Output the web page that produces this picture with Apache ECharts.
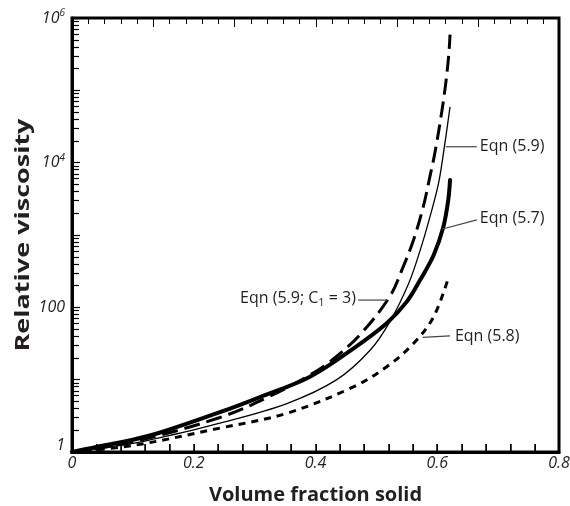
<!DOCTYPE html>
<html><head><meta charset="utf-8">
<script src="https://cdn.jsdelivr.net/npm/echarts@6/dist/echarts.min.js"></script>
<style>html,body{margin:0;padding:0;background:#fff}#c{width:570px;height:506px}</style>
</head><body><div id="c"></div>
<script>
// Eqn (5.7) thick solid
const phi57 = [0, 0.035, 0.1, 0.145, 0.243, 0.309, 0.391, 0.462, 0.517, 0.55, 0.572, 0.594, 0.61, 0.618, 0.621];
const eta57 = [1, 1.15, 1.48, 1.86, 3.55, 5.75, 11, 26.9, 60.3, 120, 240, 525, 1290, 3020, 5750];
// Eqn (5.9) thin solid
const phi59 = [0, 0.1, 0.145, 0.243, 0.353, 0.435, 0.49, 0.522, 0.553, 0.572, 0.588, 0.602, 0.61, 0.621];
const eta59 = [1, 1.32, 1.58, 2.51, 4.68, 10, 25.7, 63, 214, 617, 1780, 5130, 13200, 58900];
// Eqn (5.9; C1 = 3) long dash
const phi59c3 = [0, 0.1, 0.243, 0.325, 0.386, 0.424, 0.473, 0.522, 0.544, 0.561, 0.577, 0.588, 0.596, 0.607, 0.614, 0.619, 0.621];
const eta59c3 = [1, 1.38, 3.0, 5.9, 11, 17.8, 41.7, 141, 363, 851, 2450, 6460, 13500, 47900, 126000, 316000, 589000];
// Eqn (5.8) short dash
const phi58 = [0, 0.1, 0.243, 0.353, 0.462, 0.517, 0.561, 0.594, 0.618];
const eta58 = [1, 1.23, 2.14, 3.43, 7.94, 15.1, 31.6, 74, 251];

const xTickLabels = ['0', '0.2', '0.4', '0.6', '0.8'];
const yLabelDecades = [0, 2, 4, 6];
const yTitle = 'Relative viscosity';
const xTitle = 'Volume fraction solid';
const bottomTickDivisions = 20;  // ticks every 0.04 along the bottom edge
const topTickDivisions = 30;     // ticks along the top edge

// annotation anchors (data space)
const annotations = [
  {text: 'Eqn (5.9)', line: [0.614, 16600, 0.665, 16600], at: [0.670, 16600], align: 'left'},
  {text: 'Eqn (5.7)', line: [0.607, 1200, 0.665, 1620], at: [0.670, 1720], align: 'left'},
  {text: '{a|Eqn (5.9; C}{s|1}{a| = 3)}', line: [0.470, 126, 0.517, 126], at: [0.4665, 133], align: 'right'},
  {text: 'Eqn (5.8)', line: [0.576, 38.5, 0.621, 40.2], at: [0.629, 39.3], align: 'left'}
];

const pairs = (xs, ys) => xs.map((x, i) => [x, ys[i]]);
const FONT = '"Open Sans", "Noto Sans", sans-serif';
const TXT = '#231f20';
const G = {left: 72, right: 11, top: 18, bottom: 54};
const X_MAX = 0.8, Y_MIN = 1, Y_MAX = 1e6;

const chart = echarts.init(document.getElementById('c'), null, {renderer: 'canvas'});
chart.setOption({
  animation: false,
  backgroundColor: '#fff',
  grid: {left: G.left, right: G.right, top: G.top, bottom: G.bottom, containLabel: false, outerBoundsMode: 'none',
    show: true, borderColor: '#000', borderWidth: 3, backgroundColor: 'transparent'},
  xAxis: [{
    type: 'value', min: 0, max: X_MAX, interval: 0.2,
    name: xTitle, nameLocation: 'middle', nameGap: 33,
    nameTextStyle: {fontFamily: FONT, fontWeight: 'bold', fontSize: 20, color: TXT},
    axisLine: {show: true, onZero: false, lineStyle: {color: '#000', width: 3}},
    axisTick: {show: true, inside: true, length: 8, lineStyle: {color: '#000', width: 1.5}},
    minorTick: {show: true, splitNumber: 5, length: 8, lineStyle: {color: '#000', width: 1.5}},
    splitLine: {show: false}, minorSplitLine: {show: false},
    axisLabel: {margin: 3, fontFamily: FONT, fontStyle: 'italic', fontSize: 16, color: TXT,
      formatter: v => xTickLabels[Math.round(v / 0.2)] || ''}
  }],
  yAxis: [{
    type: 'log', logBase: 10, min: Y_MIN, max: Y_MAX, splitNumber: 6,
    axisLine: {show: true, onZero: false, lineStyle: {color: '#000', width: 3}},
    axisTick: {show: true, inside: true, length: 8, lineStyle: {color: '#000', width: 1.2}},
    minorTick: {show: true, splitNumber: 9, length: 7, lineStyle: {color: '#000', width: 1.2}},
    splitLine: {show: false}, minorSplitLine: {show: false},
    axisLabel: {margin: 7, color: TXT,
      formatter: v => {
        const L = Math.round(Math.log10(v));
        if (yLabelDecades.indexOf(L) < 0) return '';
        if (L === 0) return '{one|1}';
        if (L === 2) return '{n|100}';
        return '{n|10}{s|' + L + '}';
      },
      rich: {
        n: {fontFamily: FONT, fontStyle: 'italic', fontSize: 16, lineHeight: 20, color: TXT},
        s: {fontFamily: FONT, fontStyle: 'italic', fontSize: 10, lineHeight: 10, verticalAlign: 'top', color: TXT},
        one: {fontFamily: FONT, fontStyle: 'italic', fontSize: 16, lineHeight: 20, padding: [0, 0, 14, 0], color: TXT}
      }}
  }],
  series: [
    {name: 'Eqn (5.9; C1 = 3)', type: 'line', data: pairs(phi59c3, eta59c3), showSymbol: false, smooth: 0.35,
      lineStyle: {color: '#000', width: 3, type: [16, 7], cap: 'butt'}, z: 3},
    {name: 'Eqn (5.9)', type: 'line', data: pairs(phi59, eta59), showSymbol: false, smooth: 0.35,
      lineStyle: {color: '#000', width: 1.3}, z: 4},
    {name: 'Eqn (5.7)', type: 'line', data: pairs(phi57, eta57), showSymbol: false, smooth: 0.35,
      lineStyle: {color: '#000', width: 4, cap: 'round'}, z: 5},
    {name: 'Eqn (5.8)', type: 'line', data: pairs(phi58, eta58), showSymbol: false, smooth: 0.35,
      lineStyle: {color: '#000', width: 3, type: [7, 6], cap: 'butt'}, z: 3}
  ]
});

const px = p => chart.convertToPixel({gridIndex: 0}, p);
const graphics = [];
annotations.forEach(a => {
  const p1 = px([a.line[0], a.line[1]]), p2 = px([a.line[2], a.line[3]]), pt = px(a.at);
  graphics.push({type: 'line', shape: {x1: p1[0], y1: p1[1], x2: p2[0], y2: p2[1]},
    style: {stroke: '#444', lineWidth: 1.2}, z: 10});
  graphics.push({type: 'text', x: pt[0], y: pt[1], z: 10,
    style: {text: a.text, align: a.align, verticalAlign: 'middle', fill: TXT,
      font: '16px ' + FONT,
      rich: {
        a: {fontFamily: FONT, fontSize: 16, lineHeight: 20, fill: TXT, color: TXT},
        s: {fontFamily: FONT, fontSize: 11, lineHeight: 11, verticalAlign: 'bottom', fill: TXT, color: TXT}
      }}});
});
// frame ticks along the bottom and top edges, placed through the x scale
const yBot = px([0, Y_MIN])[1], yTop = px([0, Y_MAX])[1];
for (let i = 1; i < bottomTickDivisions; i++) {
  const x = Math.round(px([X_MAX * i / bottomTickDivisions, Y_MIN])[0]) + 0.5;
  graphics.push({type: 'line', shape: {x1: x, y1: yBot, x2: x, y2: yBot - 8}, style: {stroke: '#000', lineWidth: 1}, z: 9});
}
for (let i = 1; i < topTickDivisions; i++) {
  const x = Math.round(px([X_MAX * i / topTickDivisions, Y_MIN])[0]) + 0.5;
  const len = (i % 5 === 0) ? 9 : 6;
  graphics.push({type: 'line', shape: {x1: x, y1: yTop, x2: x, y2: yTop + len}, style: {stroke: '#000', lineWidth: 1}, z: 9});
}
// y-axis title (letter-spread to match the reference's long vertical title)
const H = chart.getHeight();
graphics.push({type: 'text', x: 23, y: G.top + (H - G.top - G.bottom) / 2, rotation: Math.PI / 2, scaleX: 1.35, z: 10,
  style: {text: yTitle, align: 'center', verticalAlign: 'middle', fill: TXT, font: 'bold 20px ' + FONT}});
chart.setOption({graphic: graphics});
</script>
</body></html>
